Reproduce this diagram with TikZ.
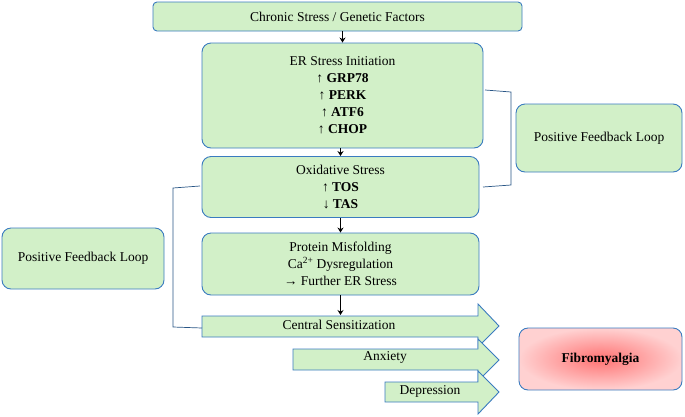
\documentclass[tikz,border=0pt]{standalone}
\usepackage{fontspec}
\setmainfont{Liberation Serif}
\usetikzlibrary{arrows.meta}
\definecolor{gfill}{HTML}{D2F0C8}
\definecolor{bline}{HTML}{3A7BC0}
\tikzset{
 gbox/.style={draw=bline,fill=gfill,line width=0.9pt,rounded corners=9pt,align=center,font=\fontsize{13.5}{17}\selectfont,inner sep=0pt},
 flow/.style={-{Stealth[length=5pt,width=6pt]},line width=1.5pt,black},
 fb/.style={draw=bline!70!black,line width=0.7pt},
 arr/.style={draw=bline,fill=gfill,line width=0.9pt},
 lbl/.style={font=\fontsize{13.5}{17}\selectfont}
}
\begin{document}
\begin{tikzpicture}[x=1pt,y=-1pt]
\useasboundingbox (0,0) rectangle (685,416);
\node[gbox,rounded corners=4pt,minimum width=369pt,minimum height=29pt] (top) at (337.5,16.5) {Chronic Stress / Genetic Factors};
\node[gbox,minimum width=281pt,minimum height=105pt] (er) at (342.5,95.5) {ER Stress Initiation\\ ↑ \textbf{GRP78}\\ ↑ \textbf{PERK}\\ ↑ \textbf{ATF6}\\ ↑ \textbf{CHOP}};
\node[gbox,minimum width=277pt,minimum height=61pt] (ox) at (340.5,187) {Oxidative Stress\\ ↑ \textbf{TOS}\\ ↓ \textbf{TAS}};
\node[gbox,minimum width=277pt,minimum height=62pt] (pm) at (340.5,264) {Protein Misfolding\\ Ca\textsuperscript{2+} Dysregulation\\ → Further ER Stress};
\node[gbox,minimum width=166pt,minimum height=68pt] (fbr) at (599,138) {Positive Feedback Loop};
\node[gbox,minimum width=162pt,minimum height=61pt] (fbl) at (83,258.5) {Positive Feedback Loop};
\node[draw=bline,line width=0.9pt,rounded corners=9pt,minimum width=163pt,minimum height=62pt,inner sep=0pt,
  inner color=red!55,outer color=red!18,font=\fontsize{13.5}{17}\selectfont\bfseries] (fm) at (600.5,359) {Fibromyalgia};
% big arrows
\path[arr] (202,316) -- (478,316) -- (478,304) -- (499,326) -- (478,347) -- (478,337) -- (202,337) -- cycle;
\node[lbl] (cs) at (339,324.5) {Central Sensitization};
\path[arr] (293,349) -- (478,349) -- (478,339) -- (499,360) -- (478,381) -- (478,370) -- (293,370) -- cycle;
\node[lbl] (ax) at (385,357.5) {Anxiety};
\path[arr] (385,382) -- (478,382) -- (478,371) -- (499,392) -- (478,414) -- (478,402) -- (385,402) -- cycle;
\node[lbl] (dp) at (430,391) {Depression};
\coordinate (csl) at (202,328);
% flow arrows
\draw[flow] (top.south -| er.north) -- (er.north);
\draw[flow] (er.south -| ox.north) -- (ox.north);
\draw[flow] (ox.south) -- (pm.north);
\draw[flow] (pm.south) -- (340.5,315);
% feedback brackets
\draw[fb] (485,90) -- (511,92) -- (511,185) -- (483,187);
\draw[fb] (200,186) -- (173,188) -- (173,327) -- (csl);
\end{tikzpicture}
\end{document}
